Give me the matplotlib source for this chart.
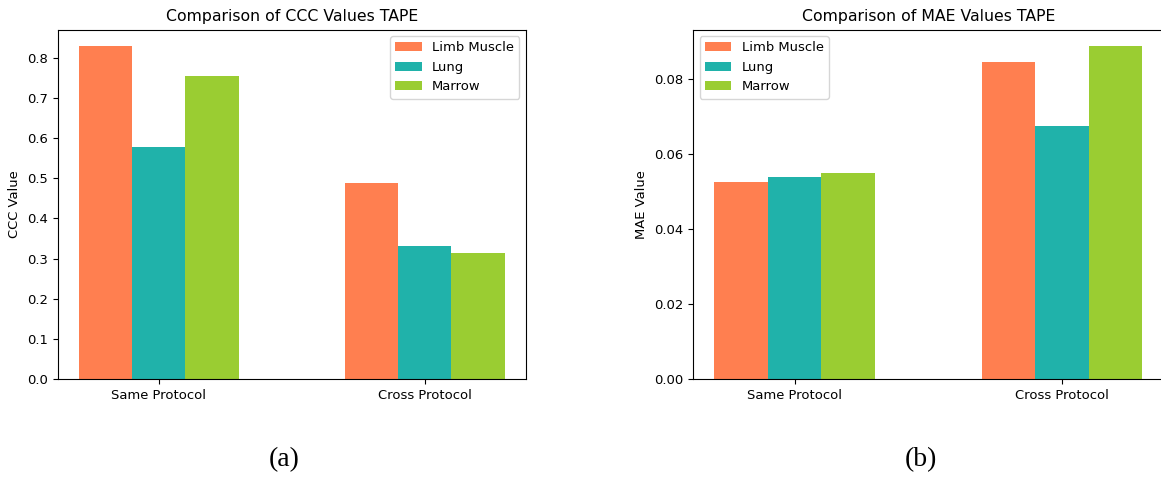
import matplotlib.pyplot as plt
import numpy as np

protocols = ["Same Protocol", "Cross Protocol"]
tissues = ["Limb Muscle", "Lung", "Marrow"]
colors = ["coral", "lightseagreen", "yellowgreen"]

ccc_limb = [0.829, 0.488]
ccc_lung = [0.578, 0.331]
ccc_marrow = [0.754, 0.314]

mae_limb = [0.0525, 0.0844]
mae_lung = [0.0538, 0.0674]
mae_marrow = [0.0549, 0.0887]

fs = 9.46
W, H = 1161, 478

fig = plt.figure(figsize=(W / 100, H / 100), dpi=100)
ax1 = fig.add_axes([57.7 / W, 1 - 379 / H, (526 - 57.7) / W, (379 - 29.5) / H])
ax2 = fig.add_axes([693 / W, 1 - 379 / H, (1163.5 - 693) / W, (379 - 29.5) / H])

x = np.arange(len(protocols))
width = 0.2

def draw(ax, series, title, ylabel, loc):
    for i, (vals, c, name) in enumerate(zip(series, colors, tissues)):
        ax.bar(x + (i - 1) * width, vals, width, color=c, label=name)
    ax.set_xticks(x)
    ax.set_xticklabels(protocols, fontsize=fs)
    ax.tick_params(axis="y", labelsize=fs)
    ax.set_title(title, fontsize=fs * 1.2)
    ax.set_ylabel(ylabel, fontsize=fs)
    ax.legend(loc=loc, fontsize=fs)

draw(ax1, [ccc_limb, ccc_lung, ccc_marrow], "Comparison of CCC Values TAPE", "CCC Value", "upper right")
draw(ax2, [mae_limb, mae_lung, mae_marrow], "Comparison of MAE Values TAPE", "MAE Value", "upper left")
ax2.set_yticks([0.0, 0.02, 0.04, 0.06, 0.08])
ax2.set_yticklabels(["0.00", "0.02", "0.04", "0.06", "0.08"])

fig.text(284 / W, 1 - 460 / H, "(a)", ha="center", va="center",
         fontsize=20, family="Liberation Serif")
fig.text(921 / W, 1 - 460 / H, "(b)", ha="center", va="center",
         fontsize=20, family="Liberation Serif")

fig.savefig("out.png", dpi=100)
